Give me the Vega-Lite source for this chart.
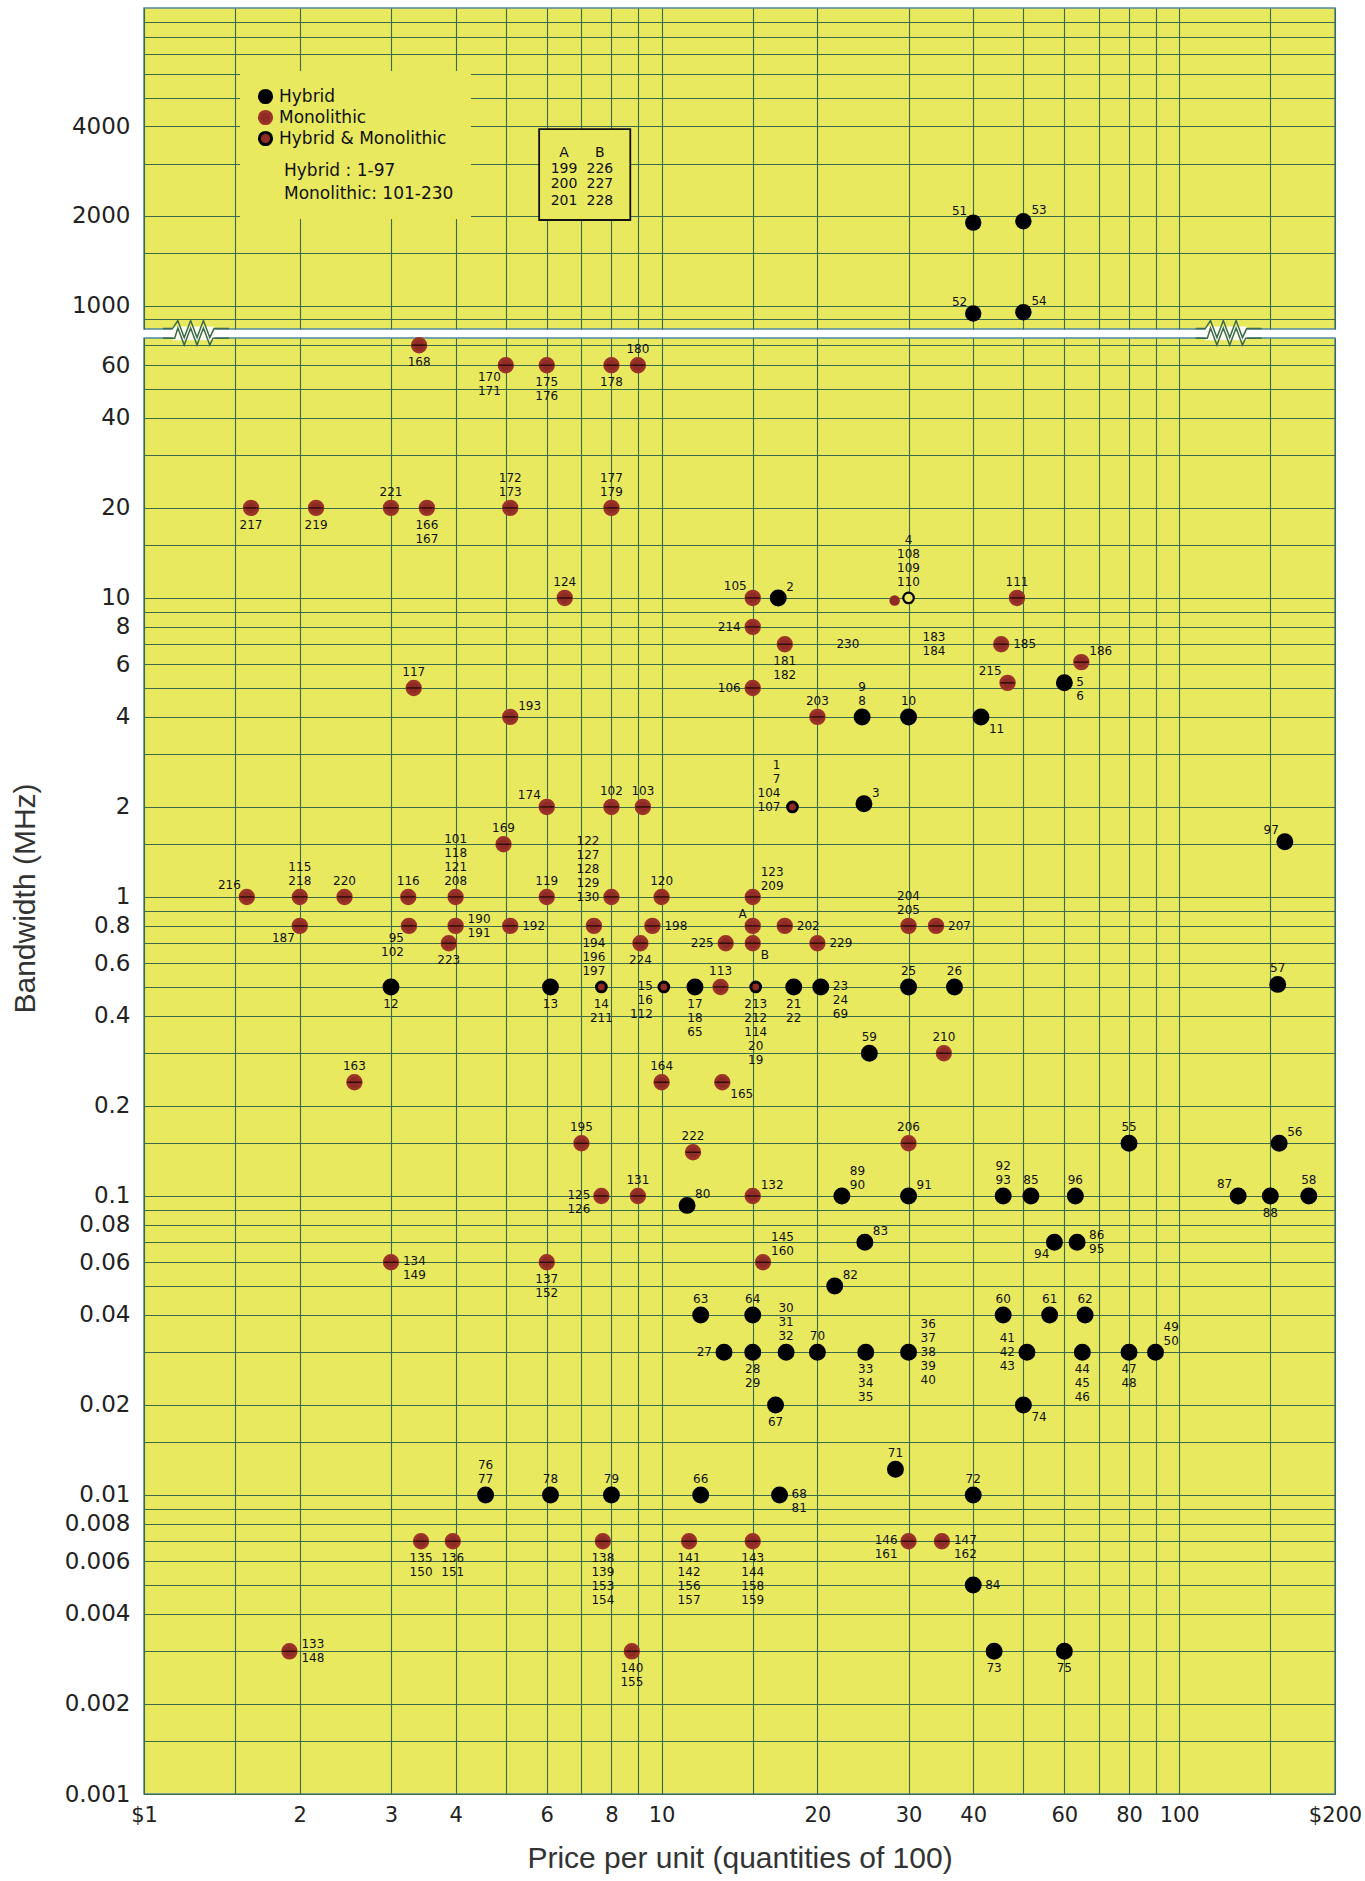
{
 "$schema": "https://vega.github.io/schema/vega-lite/v6.json",
 "background": "#ffffff",
 "padding": {"left": 9, "top": 7, "right": 2, "bottom": 2},
 "config": {
  "view": {"fill": "#e8e95e", "stroke": "#4f86a0", "strokeWidth": 1.5},
  "axis": {"grid": true, "gridColor": "#3b6b4b", "gridWidth": 1.1, "gridOpacity": 1, "ticks": false, "domain": false, "labelOverlap": false, "labelFlush": false, "labelBound": false, "labelFont": "DejaVu Sans", "labelColor": "#222222", "titleFont": "Liberation Sans", "titleFontWeight": "normal", "titleColor": "#333333", "titleFontSize": 30},
  "text": {"font": "DejaVu Sans", "fontSize": 12, "color": "#111111", "lineBreak": "\n", "lineHeight": 14}
 },
 "datasets": {
  "note": [
   {"k": "box", "x": 5.8, "x2": 8.7, "y": 1939, "y2": 3918},
   {"k": "txt", "s": "A", "x": 6.48, "y": 3254},
   {"k": "txt", "s": "199", "x": 6.48, "y": 2876},
   {"k": "txt", "s": "200", "x": 6.48, "y": 2561},
   {"k": "txt", "s": "201", "x": 6.48, "y": 2245},
   {"k": "txt", "s": "B", "x": 7.6, "y": 3254},
   {"k": "txt", "s": "226", "x": 7.6, "y": 2876},
   {"k": "txt", "s": "227", "x": 7.6, "y": 2561},
   {"k": "txt", "s": "228", "x": 7.6, "y": 2245}
  ],
  "zz": [
   {"x": 1.26, "y": 76.7},
   {"x": 124.6, "y": 76.7}
  ],
  "pts": [
   {"n":"51","t":"Hybrid","x":40,"y":1900,"p":"u","a":"tl"},
   {"n":"53","t":"Hybrid","x":50,"y":1920,"p":"u","a":"tr"},
   {"n":"52","t":"Hybrid","x":40,"y":940,"p":"u","a":"tl"},
   {"n":"54","t":"Hybrid","x":50,"y":950,"p":"u","a":"tr"},
   {"n":"168","t":"Monolithic","x":3.4,"y":70,"p":"l","a":"b"},
   {"n":"170\n171","t":"Monolithic","x":5,"y":60,"p":"l","a":"bl"},
   {"n":"175\n176","t":"Monolithic","x":6,"y":60,"p":"l","a":"b"},
   {"n":"178","t":"Monolithic","x":8,"y":60,"p":"l","a":"b"},
   {"n":"180","t":"Monolithic","x":9,"y":60,"p":"l","a":"t"},
   {"n":"217","t":"Monolithic","x":1.61,"y":20,"p":"l","a":"b"},
   {"n":"219","t":"Monolithic","x":2.15,"y":20,"p":"l","a":"b"},
   {"n":"221","t":"Monolithic","x":3,"y":20,"p":"l","a":"t"},
   {"n":"166\n167","t":"Monolithic","x":3.52,"y":20,"p":"l","a":"b"},
   {"n":"172\n173","t":"Monolithic","x":5.1,"y":20,"p":"l","a":"t"},
   {"n":"177\n179","t":"Monolithic","x":8,"y":20,"p":"l","a":"t"},
   {"n":"124","t":"Monolithic","x":6.5,"y":10,"p":"l","a":"t"},
   {"n":"105","t":"Monolithic","x":15,"y":10,"p":"l","a":"tl"},
   {"n":"2","t":"Hybrid","x":16.8,"y":10,"p":"l","a":"tr"},
   {"n":"","t":"dot","x":28.2,"y":9.8,"p":"l","a":"none"},
   {"n":"4\n108\n109\n110","t":"ring","x":30,"y":10,"p":"l","a":"t"},
   {"n":"111","t":"Monolithic","x":48.6,"y":10,"p":"l","a":"t"},
   {"n":"214","t":"Monolithic","x":15,"y":8,"p":"l","a":"l"},
   {"n":"181\n182","t":"Monolithic","x":17.3,"y":7,"p":"l","a":"b"},
   {"n":"230","t":"none","x":22.9,"y":7,"p":"l","a":"c"},
   {"n":"183\n184","t":"none","x":33.6,"y":7,"p":"l","a":"c"},
   {"n":"185","t":"Monolithic","x":45.3,"y":7,"p":"l","a":"r"},
   {"n":"186","t":"Monolithic","x":64.7,"y":6.1,"p":"l","a":"tr"},
   {"n":"117","t":"Monolithic","x":3.32,"y":5,"p":"l","a":"t"},
   {"n":"106","t":"Monolithic","x":15,"y":5,"p":"l","a":"l"},
   {"n":"215","t":"Monolithic","x":46.6,"y":5.2,"p":"l","a":"tl"},
   {"n":"5\n6","t":"Hybrid","x":60,"y":5.2,"p":"l","a":"rd"},
   {"n":"193","t":"Monolithic","x":5.1,"y":4,"p":"l","a":"tr"},
   {"n":"203","t":"Monolithic","x":20,"y":4,"p":"l","a":"t"},
   {"n":"9\n8","t":"Hybrid","x":24.4,"y":4,"p":"l","a":"t"},
   {"n":"10","t":"Hybrid","x":30,"y":4,"p":"l","a":"t"},
   {"n":"11","t":"Hybrid","x":41.4,"y":4,"p":"l","a":"br"},
   {"n":"174","t":"Monolithic","x":6,"y":2,"p":"l","a":"tl"},
   {"n":"102","t":"Monolithic","x":8,"y":2,"p":"l","a":"t"},
   {"n":"103","t":"Monolithic","x":9.2,"y":2,"p":"l","a":"t"},
   {"n":"1\n7\n104\n107","t":"Hybrid & Monolithic","x":17.9,"y":2,"p":"l","a":"lu"},
   {"n":"3","t":"Hybrid","x":24.6,"y":2.05,"p":"l","a":"tr"},
   {"n":"169","t":"Monolithic","x":4.95,"y":1.5,"p":"l","a":"t"},
   {"n":"97","t":"Hybrid","x":160,"y":1.53,"p":"l","a":"tl"},
   {"n":"216","t":"Monolithic","x":1.58,"y":1,"p":"l","a":"tl"},
   {"n":"115\n218","t":"Monolithic","x":2,"y":1,"p":"l","a":"t"},
   {"n":"220","t":"Monolithic","x":2.44,"y":1,"p":"l","a":"t"},
   {"n":"116","t":"Monolithic","x":3.24,"y":1,"p":"l","a":"t"},
   {"n":"101\n118\n121\n208","t":"Monolithic","x":4,"y":1,"p":"l","a":"t"},
   {"n":"119","t":"Monolithic","x":6,"y":1,"p":"l","a":"t"},
   {"n":"122\n127\n128\n129\n130","t":"Monolithic","x":8,"y":1,"p":"l","a":"lu"},
   {"n":"120","t":"Monolithic","x":10,"y":1,"p":"l","a":"t"},
   {"n":"123\n209","t":"Monolithic","x":15,"y":1,"p":"l","a":"tr"},
   {"n":"187","t":"Monolithic","x":2,"y":0.8,"p":"l","a":"bl"},
   {"n":"95\n102","t":"Monolithic","x":3.25,"y":0.8,"p":"l","a":"bl"},
   {"n":"190\n191","t":"Monolithic","x":4,"y":0.8,"p":"l","a":"r"},
   {"n":"192","t":"Monolithic","x":5.1,"y":0.8,"p":"l","a":"r"},
   {"n":"194\n196\n197","t":"Monolithic","x":7.4,"y":0.8,"p":"l","a":"b"},
   {"n":"198","t":"Monolithic","x":9.6,"y":0.8,"p":"l","a":"r"},
   {"n":"A","t":"Monolithic","x":15,"y":0.8,"p":"l","a":"tl"},
   {"n":"202","t":"Monolithic","x":17.3,"y":0.8,"p":"l","a":"r"},
   {"n":"204\n205","t":"Monolithic","x":30,"y":0.8,"p":"l","a":"t"},
   {"n":"207","t":"Monolithic","x":33.9,"y":0.8,"p":"l","a":"r"},
   {"n":"223","t":"Monolithic","x":3.88,"y":0.7,"p":"l","a":"b"},
   {"n":"224","t":"Monolithic","x":9.1,"y":0.7,"p":"l","a":"b"},
   {"n":"225","t":"Monolithic","x":13.3,"y":0.7,"p":"l","a":"l"},
   {"n":"B","t":"Monolithic","x":15,"y":0.7,"p":"l","a":"br"},
   {"n":"229","t":"Monolithic","x":20,"y":0.7,"p":"l","a":"r"},
   {"n":"12","t":"Hybrid","x":3,"y":0.5,"p":"l","a":"b"},
   {"n":"13","t":"Hybrid","x":6.1,"y":0.5,"p":"l","a":"b"},
   {"n":"14\n211","t":"Hybrid & Monolithic","x":7.65,"y":0.5,"p":"l","a":"b"},
   {"n":"15\n16\n112","t":"Hybrid & Monolithic","x":10.1,"y":0.5,"p":"l","a":"ld"},
   {"n":"17\n18\n65","t":"Hybrid","x":11.6,"y":0.5,"p":"l","a":"b"},
   {"n":"113","t":"Monolithic","x":13,"y":0.5,"p":"l","a":"t"},
   {"n":"213\n212\n114\n20\n19","t":"Hybrid & Monolithic","x":15.2,"y":0.5,"p":"l","a":"b"},
   {"n":"21\n22","t":"Hybrid","x":18,"y":0.5,"p":"l","a":"b"},
   {"n":"23\n24\n69","t":"Hybrid","x":20.3,"y":0.5,"p":"l","a":"rd"},
   {"n":"25","t":"Hybrid","x":30,"y":0.5,"p":"l","a":"t"},
   {"n":"26","t":"Hybrid","x":36.8,"y":0.5,"p":"l","a":"t"},
   {"n":"57","t":"Hybrid","x":155,"y":0.51,"p":"l","a":"t"},
   {"n":"59","t":"Hybrid","x":25.2,"y":0.3,"p":"l","a":"t"},
   {"n":"210","t":"Monolithic","x":35.1,"y":0.3,"p":"l","a":"t"},
   {"n":"163","t":"Monolithic","x":2.55,"y":0.24,"p":"l","a":"t"},
   {"n":"164","t":"Monolithic","x":10,"y":0.24,"p":"l","a":"t"},
   {"n":"165","t":"Monolithic","x":13.1,"y":0.24,"p":"l","a":"br"},
   {"n":"195","t":"Monolithic","x":7,"y":0.15,"p":"l","a":"t"},
   {"n":"222","t":"Monolithic","x":11.5,"y":0.14,"p":"l","a":"t"},
   {"n":"206","t":"Monolithic","x":30,"y":0.15,"p":"l","a":"t"},
   {"n":"55","t":"Hybrid","x":80,"y":0.15,"p":"l","a":"t"},
   {"n":"56","t":"Hybrid","x":156,"y":0.15,"p":"l","a":"tr"},
   {"n":"125\n126","t":"Monolithic","x":7.65,"y":0.1,"p":"l","a":"ld"},
   {"n":"131","t":"Monolithic","x":9,"y":0.1,"p":"l","a":"t"},
   {"n":"80","t":"Hybrid","x":11.2,"y":0.093,"p":"l","a":"tr"},
   {"n":"132","t":"Monolithic","x":15,"y":0.1,"p":"l","a":"tr"},
   {"n":"89\n90","t":"Hybrid","x":22.3,"y":0.1,"p":"l","a":"tr"},
   {"n":"91","t":"Hybrid","x":30,"y":0.1,"p":"l","a":"tr"},
   {"n":"92\n93","t":"Hybrid","x":45.7,"y":0.1,"p":"l","a":"t"},
   {"n":"85","t":"Hybrid","x":51.7,"y":0.1,"p":"l","a":"t"},
   {"n":"96","t":"Hybrid","x":63,"y":0.1,"p":"l","a":"t"},
   {"n":"87","t":"Hybrid","x":130,"y":0.1,"p":"l","a":"tl"},
   {"n":"88","t":"Hybrid","x":150,"y":0.1,"p":"l","a":"b"},
   {"n":"58","t":"Hybrid","x":178,"y":0.1,"p":"l","a":"t"},
   {"n":"83","t":"Hybrid","x":24.7,"y":0.07,"p":"l","a":"tr"},
   {"n":"94","t":"Hybrid","x":57.4,"y":0.07,"p":"l","a":"bl"},
   {"n":"86\n95","t":"Hybrid","x":63.5,"y":0.07,"p":"l","a":"r"},
   {"n":"134\n149","t":"Monolithic","x":3,"y":0.06,"p":"l","a":"rd"},
   {"n":"137\n152","t":"Monolithic","x":6,"y":0.06,"p":"l","a":"b"},
   {"n":"145\n160","t":"Monolithic","x":15.7,"y":0.06,"p":"l","a":"tr"},
   {"n":"82","t":"Hybrid","x":21.6,"y":0.05,"p":"l","a":"tr"},
   {"n":"63","t":"Hybrid","x":11.9,"y":0.04,"p":"l","a":"t"},
   {"n":"64","t":"Hybrid","x":15,"y":0.04,"p":"l","a":"t"},
   {"n":"60","t":"Hybrid","x":45.7,"y":0.04,"p":"l","a":"t"},
   {"n":"61","t":"Hybrid","x":56.2,"y":0.04,"p":"l","a":"t"},
   {"n":"62","t":"Hybrid","x":65.8,"y":0.04,"p":"l","a":"t"},
   {"n":"27","t":"Hybrid","x":13.2,"y":0.03,"p":"l","a":"l"},
   {"n":"28\n29","t":"Hybrid","x":15,"y":0.03,"p":"l","a":"b"},
   {"n":"30\n31\n32","t":"Hybrid","x":17.4,"y":0.03,"p":"l","a":"t"},
   {"n":"70","t":"Hybrid","x":20,"y":0.03,"p":"l","a":"t"},
   {"n":"33\n34\n35","t":"Hybrid","x":24.8,"y":0.03,"p":"l","a":"b"},
   {"n":"36\n37\n38\n39\n40","t":"Hybrid","x":30,"y":0.03,"p":"l","a":"r"},
   {"n":"41\n42\n43","t":"Hybrid","x":50.8,"y":0.03,"p":"l","a":"l"},
   {"n":"44\n45\n46","t":"Hybrid","x":65,"y":0.03,"p":"l","a":"b"},
   {"n":"47\n48","t":"Hybrid","x":80,"y":0.03,"p":"l","a":"b"},
   {"n":"49\n50","t":"Hybrid","x":90,"y":0.03,"p":"l","a":"tr"},
   {"n":"67","t":"Hybrid","x":16.6,"y":0.02,"p":"l","a":"b"},
   {"n":"74","t":"Hybrid","x":50,"y":0.02,"p":"l","a":"br"},
   {"n":"71","t":"Hybrid","x":28.3,"y":0.0122,"p":"l","a":"t"},
   {"n":"76\n77","t":"Hybrid","x":4.57,"y":0.01,"p":"l","a":"t"},
   {"n":"78","t":"Hybrid","x":6.1,"y":0.01,"p":"l","a":"t"},
   {"n":"79","t":"Hybrid","x":8,"y":0.01,"p":"l","a":"t"},
   {"n":"66","t":"Hybrid","x":11.9,"y":0.01,"p":"l","a":"t"},
   {"n":"68\n81","t":"Hybrid","x":16.9,"y":0.01,"p":"l","a":"rd"},
   {"n":"72","t":"Hybrid","x":40,"y":0.01,"p":"l","a":"t"},
   {"n":"135\n150","t":"Monolithic","x":3.43,"y":0.007,"p":"l","a":"b"},
   {"n":"136\n151","t":"Monolithic","x":3.95,"y":0.007,"p":"l","a":"b"},
   {"n":"138\n139\n153\n154","t":"Monolithic","x":7.7,"y":0.007,"p":"l","a":"b"},
   {"n":"141\n142\n156\n157","t":"Monolithic","x":11.3,"y":0.007,"p":"l","a":"b"},
   {"n":"143\n144\n158\n159","t":"Monolithic","x":15,"y":0.007,"p":"l","a":"b"},
   {"n":"146\n161","t":"Monolithic","x":30,"y":0.007,"p":"l","a":"ld"},
   {"n":"147\n162","t":"Monolithic","x":34.8,"y":0.007,"p":"l","a":"rd"},
   {"n":"84","t":"Hybrid","x":40,"y":0.005,"p":"l","a":"r"},
   {"n":"133\n148","t":"Monolithic","x":1.91,"y":0.003,"p":"l","a":"r"},
   {"n":"140\n155","t":"Monolithic","x":8.76,"y":0.003,"p":"l","a":"b"},
   {"n":"73","t":"Hybrid","x":43.9,"y":0.003,"p":"l","a":"b"},
   {"n":"75","t":"Hybrid","x":60,"y":0.003,"p":"l","a":"b"}
  ]
 },
 "bounds": "flush",
 "spacing": 9,
 "resolve": {"scale": {"x": "independent", "y": "independent"}},
 "vconcat": [
  {
   "width": 1191,
   "height": 321,
   "encoding": {
    "x": {"field": "x", "type": "quantitative", "scale": {"type": "log", "domain": [1, 200], "nice": false},
          "axis": {"values": [1,1.5,2,3,4,5,6,7,8,9,10,15,20,30,40,50,60,70,80,90,100,150,200], "labels": false, "title": null}},
    "y": {"field": "y", "type": "quantitative", "scale": {"type": "log", "domain": [834, 10000], "nice": false},
          "axis": {"values": [900,1000,1500,2000,3000,4000,5000,6000,7000,8000,9000], "labelExpr": "indexof([1000,2000,4000], datum.value) >= 0 ? '' + datum.value : ''", "labelFontSize": 23, "labelPadding": 14, "title": null}}
   },
   "layer": [
    {"data": {"name": "note"}, "transform": [{"filter": "datum.k == 'box'"}],
     "mark": {"type": "rect", "fill": "#e8e95e", "stroke": "#111111", "strokeWidth": 1.8},
     "encoding": {"x2": {"field": "x2"}, "y2": {"field": "y2"}}},
    {"data": {"name": "note"}, "transform": [{"filter": "datum.k == 'txt'"}],
     "mark": {"type": "text", "fontSize": 14, "align": "center", "baseline": "middle"},
     "encoding": {"text": {"field": "s"}}},
    {"data": {"name": "pts"}, "transform": [{"filter": "datum.p == 'u'"}],
     "mark": {"type": "circle", "fill": "#000000", "size": 270, "opacity": 1}},
    {"data": {"name": "pts"}, "transform": [{"filter": "datum.p == 'u' && datum.a == 'tl'"}],
     "mark": {"type": "text", "align": "right", "baseline": "bottom", "dx": -6, "dy": -5},
     "encoding": {"text": {"field": "n"}}},
    {"data": {"name": "pts"}, "transform": [{"filter": "datum.p == 'u' && datum.a == 'tr'"}],
     "mark": {"type": "text", "align": "left", "baseline": "bottom", "dx": 8, "dy": -4},
     "encoding": {"text": {"field": "n"}}}
   ]
  },
  {
   "width": 1191,
   "height": 1456,
   "data": {"name": "pts"},
   "encoding": {
    "x": {"field": "x", "type": "quantitative", "scale": {"type": "log", "domain": [1, 200], "nice": false},
          "axis": {"values": [1,1.5,2,3,4,5,6,7,8,9,10,15,20,30,40,50,60,70,80,90,100,150,200],
                   "labelExpr": "datum.value == 1 ? '$1' : datum.value == 200 ? '$200' : (indexof([2,3,4,6,8,10,20,30,40,60,80,100], datum.value) >= 0 ? '' + datum.value : '')",
                   "labelFontSize": 21, "labelPadding": 10, "title": "Price per unit (quantities of 100)", "titlePadding": 18}},
    "y": {"field": "y", "type": "quantitative", "scale": {"type": "log", "domain": [0.001, 74], "nice": false},
          "axis": {"values": [0.001,0.0015,0.002,0.003,0.004,0.005,0.006,0.007,0.008,0.009,0.01,0.015,0.02,0.03,0.04,0.05,0.06,0.07,0.08,0.09,0.1,0.15,0.2,0.3,0.4,0.5,0.6,0.7,0.8,0.9,1,1.5,2,3,4,5,6,7,8,9,10,15,20,30,40,50,60,70],
                   "labelExpr": "indexof([0.001,0.002,0.004,0.006,0.008,0.01,0.02,0.04,0.06,0.08,0.1,0.2,0.4,0.6,0.8,1,2,4,6,8,10,20,40,60], datum.value) >= 0 ? '' + datum.value : ''",
                   "labelFontSize": 23, "labelPadding": 14, "title": "Bandwidth (MHz)", "titleX": -110, "titleY": 560, "titleBaseline": "alphabetic"}}
   },
   "layer": [
    {"data": {"name": "zz"},
     "mark": {"type": "point", "shape": "M-0.7,-0.21L0.56,-0.21L0.56,0.21L-0.7,0.21Z", "filled": true, "color": "#fbfbf2", "strokeWidth": 0, "size": 4356, "opacity": 1}},
    {"data": {"name": "zz"},
     "mark": {"type": "point", "shape": "M-1,-0.145L-0.71,-0.145L-0.55,-0.387L-0.355,0.129L-0.161,-0.387L0.032,0.129L0.226,-0.387L0.419,0.129L0.548,-0.145L1,-0.145M-1,0.145L-0.645,0.145L-0.548,-0.161L-0.355,0.355L-0.161,-0.161L0.032,0.355L0.226,-0.161L0.419,0.355L0.516,0.145L1,0.145", "filled": false, "color": "#3b6b4b", "strokeWidth": 1.5, "size": 4356, "opacity": 1}},
    {"transform": [{"filter": "datum.p == 'l' && (datum.t == 'Hybrid' || datum.t == 'Monolithic' || datum.t == 'Hybrid & Monolithic')"}],
     "mark": {"type": "circle", "strokeWidth": 3, "opacity": 1},
     "encoding": {
      "fill": {"field": "t", "type": "nominal",
               "scale": {"domain": ["Hybrid", "Monolithic", "Hybrid & Monolithic"], "range": ["#000000", "#8f2b25", "#8f2b25"]},
               "legend": {"title": ["\u200b\u00a0\u00a0\u00a0\u00a0\u00a0Hybrid : 1-97", "\u200b\u00a0\u00a0\u00a0\u00a0\u00a0Monolithic: 101-230"], "orient": "none", "legendX": 96, "legendY": 63, "titleOrient": "bottom", "titleAnchor": "start", "titleFontSize": 17, "titleFont": "DejaVu Sans", "titleFontWeight": "normal", "titleColor": "#111111", "titleLineHeight": 23, "titlePadding": 12, "titleLimit": 400, "labelLimit": 400, "labelFontSize": 17, "labelFont": "DejaVu Sans", "labelColor": "#111111", "labelOffset": 5, "symbolSize": 150, "symbolStrokeWidth": 3, "symbolOpacity": 1, "rowPadding": -5, "padding": 17, "fillColor": "#e8e95e", "symbolType": "circle"}},
      "stroke": {"field": "t", "type": "nominal",
               "scale": {"domain": ["Hybrid", "Monolithic", "Hybrid & Monolithic"], "range": ["#000000", "#9c3328", "#000000"]},
               "legend": {"title": ["\u200b\u00a0\u00a0\u00a0\u00a0\u00a0Hybrid : 1-97", "\u200b\u00a0\u00a0\u00a0\u00a0\u00a0Monolithic: 101-230"], "orient": "none", "legendX": 96, "legendY": 63, "titleOrient": "bottom", "titleAnchor": "start", "titleFontSize": 17, "titleFont": "DejaVu Sans", "titleFontWeight": "normal", "titleColor": "#111111", "titleLineHeight": 23, "titlePadding": 12, "titleLimit": 400, "labelLimit": 400, "labelFontSize": 17, "labelFont": "DejaVu Sans", "labelColor": "#111111", "labelOffset": 5, "symbolSize": 150, "symbolStrokeWidth": 3, "symbolOpacity": 1, "rowPadding": -5, "padding": 17, "fillColor": "#e8e95e", "symbolType": "circle"}},
      "size": {"condition": [{"test": "datum.t == 'Hybrid'", "value": 195}, {"test": "datum.t == 'Hybrid & Monolithic'", "value": 95}], "value": 180}
     }},
    {"transform": [{"filter": "datum.p == 'l' && datum.t == 'Monolithic'"}],
     "mark": {"type": "point", "shape": "M-1,0L1,0", "filled": false, "color": "#2b0b08", "strokeWidth": 1.4, "size": 210, "opacity": 1}},
    {"transform": [{"filter": "datum.t == 'dot'"}],
     "mark": {"type": "circle", "fill": "#8f2b25", "size": 110, "opacity": 1}},
    {"transform": [{"filter": "datum.t == 'ring'"}],
     "mark": {"type": "circle", "fill": "#e8e95e", "stroke": "#000000", "strokeWidth": 2.2, "size": 110, "opacity": 1}},
    {"transform": [{"filter": "datum.p == 'l' && datum.a == 't' && length(split(datum.n, '\\n')) == 1"}],
     "mark": {"type": "text", "align": "center", "baseline": "bottom", "dy": -9}, "encoding": {"text": {"field": "n"}}},
    {"transform": [{"filter": "datum.p == 'l' && datum.a == 't' && length(split(datum.n, '\\n')) == 2"}],
     "mark": {"type": "text", "align": "center", "baseline": "bottom", "dy": -23}, "encoding": {"text": {"field": "n"}}},
    {"transform": [{"filter": "datum.p == 'l' && datum.a == 't' && length(split(datum.n, '\\n')) == 3"}],
     "mark": {"type": "text", "align": "center", "baseline": "bottom", "dy": -37}, "encoding": {"text": {"field": "n"}}},
    {"transform": [{"filter": "datum.p == 'l' && datum.a == 't' && length(split(datum.n, '\\n')) == 4"}],
     "mark": {"type": "text", "align": "center", "baseline": "bottom", "dy": -51}, "encoding": {"text": {"field": "n"}}},
    {"transform": [{"filter": "datum.p == 'l' && datum.a == 'b'"}],
     "mark": {"type": "text", "align": "center", "baseline": "top", "dy": 12}, "encoding": {"text": {"field": "n"}}},
    {"transform": [{"filter": "datum.p == 'l' && datum.a == 'l' && length(split(datum.n, '\\n')) == 1"}],
     "mark": {"type": "text", "align": "right", "baseline": "middle", "dx": -12}, "encoding": {"text": {"field": "n"}}},
    {"transform": [{"filter": "datum.p == 'l' && datum.a == 'l' && length(split(datum.n, '\\n')) == 3"}],
     "mark": {"type": "text", "align": "right", "baseline": "middle", "dx": -12, "dy": -14}, "encoding": {"text": {"field": "n"}}},
    {"transform": [{"filter": "datum.p == 'l' && datum.a == 'r' && length(split(datum.n, '\\n')) == 1"}],
     "mark": {"type": "text", "align": "left", "baseline": "middle", "dx": 12}, "encoding": {"text": {"field": "n"}}},
    {"transform": [{"filter": "datum.p == 'l' && datum.a == 'r' && length(split(datum.n, '\\n')) == 2"}],
     "mark": {"type": "text", "align": "left", "baseline": "middle", "dx": 12, "dy": -7}, "encoding": {"text": {"field": "n"}}},
    {"transform": [{"filter": "datum.p == 'l' && datum.a == 'r' && length(split(datum.n, '\\n')) == 5"}],
     "mark": {"type": "text", "align": "left", "baseline": "middle", "dx": 12, "dy": -28}, "encoding": {"text": {"field": "n"}}},
    {"transform": [{"filter": "datum.p == 'l' && datum.a == 'tl'"}],
     "mark": {"type": "text", "align": "right", "baseline": "bottom", "dx": -6, "dy": -5}, "encoding": {"text": {"field": "n"}}},
    {"transform": [{"filter": "datum.p == 'l' && datum.a == 'tr' && length(split(datum.n, '\\n')) == 1"}],
     "mark": {"type": "text", "align": "left", "baseline": "bottom", "dx": 8, "dy": -4}, "encoding": {"text": {"field": "n"}}},
    {"transform": [{"filter": "datum.p == 'l' && datum.a == 'tr' && length(split(datum.n, '\\n')) == 2"}],
     "mark": {"type": "text", "align": "left", "baseline": "bottom", "dx": 8, "dy": -18}, "encoding": {"text": {"field": "n"}}},
    {"transform": [{"filter": "datum.p == 'l' && datum.a == 'bl'"}],
     "mark": {"type": "text", "align": "right", "baseline": "top", "dx": -5, "dy": 7}, "encoding": {"text": {"field": "n"}}},
    {"transform": [{"filter": "datum.p == 'l' && datum.a == 'br'"}],
     "mark": {"type": "text", "align": "left", "baseline": "top", "dx": 8, "dy": 7}, "encoding": {"text": {"field": "n"}}},
    {"transform": [{"filter": "datum.p == 'l' && datum.a == 'lu' && length(split(datum.n, '\\n')) == 4"}],
     "mark": {"type": "text", "align": "right", "baseline": "bottom", "dx": -12, "dy": -35}, "encoding": {"text": {"field": "n"}}},
    {"transform": [{"filter": "datum.p == 'l' && datum.a == 'lu' && length(split(datum.n, '\\n')) == 5"}],
     "mark": {"type": "text", "align": "right", "baseline": "bottom", "dx": -12, "dy": -49}, "encoding": {"text": {"field": "n"}}},
    {"transform": [{"filter": "datum.p == 'l' && datum.a == 'ld'"}],
     "mark": {"type": "text", "align": "right", "baseline": "top", "dx": -11, "dy": -6}, "encoding": {"text": {"field": "n"}}},
    {"transform": [{"filter": "datum.p == 'l' && datum.a == 'rd'"}],
     "mark": {"type": "text", "align": "left", "baseline": "top", "dx": 12, "dy": -6}, "encoding": {"text": {"field": "n"}}},
    {"transform": [{"filter": "datum.p == 'l' && datum.a == 'c' && length(split(datum.n, '\\n')) == 1"}],
     "mark": {"type": "text", "align": "center", "baseline": "middle"}, "encoding": {"text": {"field": "n"}}},
    {"transform": [{"filter": "datum.p == 'l' && datum.a == 'c' && length(split(datum.n, '\\n')) == 2"}],
     "mark": {"type": "text", "align": "center", "baseline": "middle", "dy": -7}, "encoding": {"text": {"field": "n"}}}
   ]
  }
 ]
}
